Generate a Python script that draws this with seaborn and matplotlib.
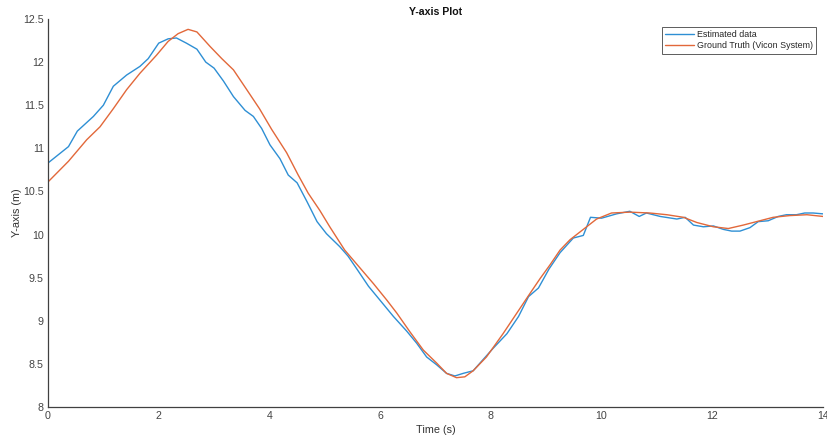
import matplotlib
matplotlib.use("Agg")
import matplotlib.pyplot as plt
import seaborn as sns

# Estimated data
t_est = [0, 0.37, 0.53, 0.82, 1.0, 1.18, 1.42, 1.66, 1.81, 2.0, 2.17, 2.32, 2.5, 2.69, 2.85,
         3.0, 3.17, 3.35, 3.56, 3.71, 3.86, 4.01, 4.19, 4.34, 4.5, 4.68, 4.86, 5.03, 5.27, 5.42,
         5.58, 5.79, 6.06, 6.24, 6.48, 6.66, 6.84, 7.02, 7.20, 7.35, 7.50, 7.68, 7.86, 8.04, 8.29,
         8.50, 8.68, 8.86, 9.05, 9.25, 9.49, 9.67, 9.80, 10.0, 10.27, 10.51, 10.68, 10.81, 11.06, 11.36,
         11.51, 11.66, 11.84, 12.02, 12.20, 12.35, 12.50, 12.68, 12.83, 13.01, 13.19, 13.34, 13.52, 13.67, 13.82,
         14.0]
y_est = [10.83, 11.02, 11.20, 11.37, 11.50, 11.72, 11.85, 11.95, 12.04, 12.22, 12.27, 12.28, 12.22, 12.15, 12.0,
         11.93, 11.78, 11.60, 11.44, 11.37, 11.23, 11.04, 10.88, 10.69, 10.60, 10.38, 10.15, 10.01, 9.86, 9.75,
         9.60, 9.40, 9.19, 9.05, 8.88, 8.74, 8.58, 8.49, 8.39, 8.36, 8.39, 8.42, 8.55, 8.68, 8.85,
         9.05, 9.28, 9.38, 9.60, 9.79, 9.96, 9.99, 10.20, 10.19, 10.24, 10.27, 10.21, 10.25, 10.21, 10.18,
         10.20, 10.11, 10.09, 10.10, 10.06, 10.04, 10.04, 10.08, 10.15, 10.16, 10.21, 10.23, 10.23, 10.25, 10.25,
         10.24]

# Ground truth (Vicon)
t_gt = [0, 0.37, 0.70, 0.94, 1.18, 1.42, 1.66, 1.96, 2.17, 2.35, 2.53, 2.69, 2.93, 3.14, 3.35,
        3.57, 3.82, 4.04, 4.31, 4.52, 4.70, 4.91, 5.09, 5.36, 5.64, 5.88, 6.12, 6.30, 6.54, 6.78,
        7.02, 7.20, 7.38, 7.53, 7.68, 7.92, 8.22, 8.47, 8.71, 8.89, 9.07, 9.25, 9.43, 9.67, 9.91,
        10.18, 10.51, 10.87, 11.18, 11.48, 11.72, 12.02, 12.29, 12.56, 12.80, 13.10, 13.40, 13.71, 14.0]
y_gt = [10.61, 10.85, 11.10, 11.25, 11.46, 11.68, 11.87, 12.08, 12.24, 12.33, 12.38, 12.35, 12.18, 12.04, 11.91,
        11.70, 11.46, 11.22, 10.95, 10.69, 10.48, 10.28, 10.09, 9.82, 9.61, 9.43, 9.24, 9.09, 8.87, 8.66,
        8.51, 8.39, 8.34, 8.35, 8.42, 8.58, 8.85, 9.09, 9.32, 9.49, 9.65, 9.82, 9.94, 10.06, 10.18,
        10.25, 10.26, 10.25, 10.23, 10.20, 10.14, 10.09, 10.07, 10.11, 10.15, 10.20, 10.22, 10.23, 10.21]

labels = ["Estimated data", "Ground Truth (Vicon System)"]
x_ticks = [0, 2, 4, 6, 8, 10, 12, 14]
y_ticks = [8, 8.5, 9, 9.5, 10, 10.5, 11, 11.5, 12, 12.5]
y_tick_labels = ["8", "8.5", "9", "9.5", "10", "10.5", "11", "11.5", "12", "12.5"]

sns.set_style("white")
plt.rcParams['font.family'] = ['Liberation Sans', 'DejaVu Sans']

fig = plt.figure(figsize=(8.28, 4.42), dpi=100)
ax = fig.add_axes([48/828, 1 - 407/442, (823-48)/828, (407-19)/442])

axis_col = "#404040"
sns.lineplot(x=t_est, y=y_est, color="#2E8FD4", linewidth=1.0, ax=ax, sort=False, estimator=None,
             label=labels[0])
sns.lineplot(x=t_gt, y=y_gt, color="#E2683A", linewidth=1.0, ax=ax, sort=False, estimator=None,
             label=labels[1])

ax.set_xlim(0, 14)
ax.set_ylim(8, 12.5)
ax.set_xticks(x_ticks)
ax.set_yticks(y_ticks)
ax.set_yticklabels(y_tick_labels)
for s in ["top", "right"]:
    ax.spines[s].set_visible(False)
for s in ["left", "bottom"]:
    ax.spines[s].set_color(axis_col)
    ax.spines[s].set_linewidth(0.9)
ax.tick_params(direction="in", length=5.5, width=0.8, colors=axis_col, labelsize=7.7,
               labelcolor="#444444", pad=3)
ax.set_xlabel("Time (s)", fontsize=7.8, color="#333333", labelpad=3)
ax.set_ylabel("Y-axis (m)", fontsize=7.8, color="#333333", labelpad=1)
ax.set_title("Y-axis Plot", fontsize=7.6, fontweight="bold", color="#111111", pad=3)

leg = ax.legend(loc="upper right", bbox_to_anchor=(0.991, 0.979), fontsize=6.4, frameon=True,
                fancybox=False, borderpad=0.35, handlelength=3.3, handletextpad=0.3,
                labelspacing=0.25, borderaxespad=0.0)
leg.get_frame().set_edgecolor("#333333")
leg.get_frame().set_linewidth(0.7)

fig.savefig("out.png", dpi=100)
